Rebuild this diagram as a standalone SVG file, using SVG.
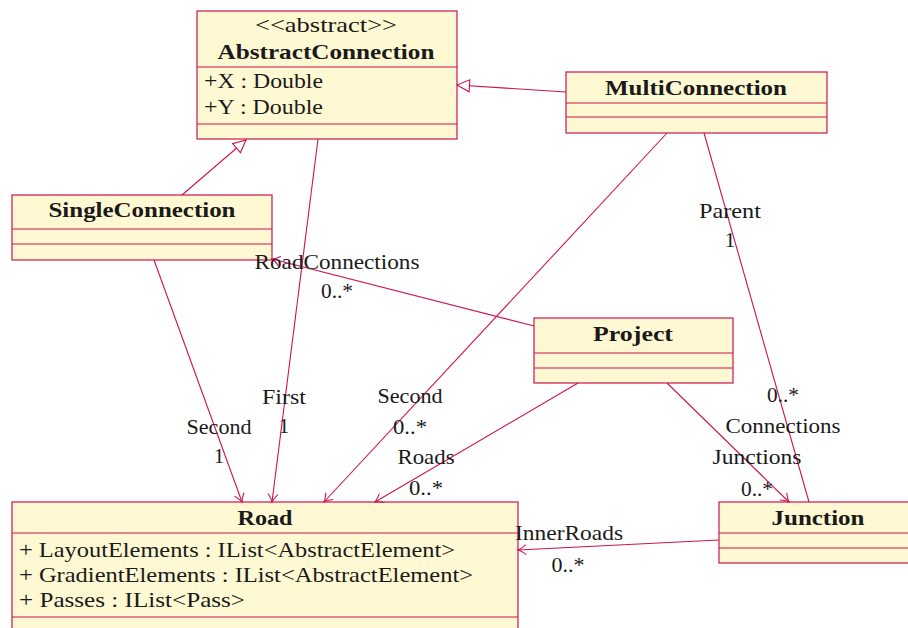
<svg xmlns="http://www.w3.org/2000/svg" width="908" height="628" viewBox="0 0 908 628">
  <style>
    .box { fill: #fef8d3; stroke: #cc1450; stroke-width: 1.2; }
    .sep { stroke: #cc1450; stroke-width: 1.2; }
    .edge { fill: none; stroke: #cc1450; stroke-width: 1.1; }
    text { font-family: "Liberation Serif", "DejaVu Serif", serif; font-size: 21px; fill: #1a1a1a; }
    .title { font-weight: bold; text-anchor: middle; }
    .mid { text-anchor: middle; }
  </style>
  <defs>
    <marker id="assoc" viewBox="-10 -7 12 14" markerWidth="12" markerHeight="14" refX="0" refY="0" orient="auto" markerUnits="userSpaceOnUse">
      <path d="M-8,-5 Q-3,-1 0,0 Q-3,1 -8,5" fill="none" stroke="#cc1450" stroke-width="1.1"/>
    </marker>
    <marker id="inherit" viewBox="-15 -8 17 16" markerWidth="17" markerHeight="16" refX="0" refY="0" orient="auto" markerUnits="userSpaceOnUse">
      <path d="M0,0 L-12.5,-6 L-12.5,6 Z" fill="#ffffff" stroke="#cc1450" stroke-width="1.1"/>
    </marker>
  </defs>

  <g id="AbstractConnection">
    <rect class="box" x="197" y="11" width="260" height="128"/>
    <line class="sep" x1="197" y1="67" x2="457" y2="67"/>
    <line class="sep" x1="197" y1="124" x2="457" y2="124"/>
    <text class="mid" x="326" y="32" textLength="142" lengthAdjust="spacingAndGlyphs">&lt;&lt;abstract&gt;&gt;</text>
    <text class="title" x="326" y="59" textLength="217" lengthAdjust="spacingAndGlyphs">AbstractConnection</text>
    <text x="204" y="88" textLength="119" lengthAdjust="spacingAndGlyphs">+X : Double</text>
    <text x="204" y="114" textLength="119" lengthAdjust="spacingAndGlyphs">+Y : Double</text>
  </g>

  <g id="MultiConnection">
    <rect class="box" x="566" y="72" width="261" height="61"/>
    <line class="sep" x1="566" y1="103" x2="827" y2="103"/>
    <line class="sep" x1="566" y1="117" x2="827" y2="117"/>
    <text class="title" x="696" y="95" textLength="182" lengthAdjust="spacingAndGlyphs">MultiConnection</text>
  </g>

  <g id="SingleConnection">
    <rect class="box" x="12" y="195" width="260" height="65"/>
    <line class="sep" x1="12" y1="229" x2="272" y2="229"/>
    <line class="sep" x1="12" y1="244" x2="272" y2="244"/>
    <text class="title" x="142" y="217" textLength="187" lengthAdjust="spacingAndGlyphs">SingleConnection</text>
  </g>

  <g id="Project">
    <rect class="box" x="534" y="318" width="199" height="65"/>
    <line class="sep" x1="534" y1="353" x2="733" y2="353"/>
    <line class="sep" x1="534" y1="368" x2="733" y2="368"/>
    <text class="title" x="633" y="341" textLength="80" lengthAdjust="spacingAndGlyphs">Project</text>
  </g>

  <g id="Road">
    <rect class="box" x="12" y="502" width="506" height="140"/>
    <line class="sep" x1="12" y1="533" x2="518" y2="533"/>
    <line class="sep" x1="12" y1="617" x2="518" y2="617"/>
    <text class="title" x="265" y="525" textLength="55" lengthAdjust="spacingAndGlyphs">Road</text>
    <text x="19" y="557" textLength="436" lengthAdjust="spacingAndGlyphs">+ LayoutElements : IList&lt;AbstractElement&gt;</text>
    <text x="19" y="582" textLength="454" lengthAdjust="spacingAndGlyphs">+ GradientElements : IList&lt;AbstractElement&gt;</text>
    <text x="19" y="607" textLength="226" lengthAdjust="spacingAndGlyphs">+ Passes : IList&lt;Pass&gt;</text>
  </g>

  <g id="Junction">
    <rect class="box" x="719" y="502" width="198" height="61"/>
    <line class="sep" x1="719" y1="533" x2="917" y2="533"/>
    <line class="sep" x1="719" y1="548" x2="917" y2="548"/>
    <text class="title" x="818" y="525" textLength="93" lengthAdjust="spacingAndGlyphs">Junction</text>
  </g>

  <!-- relations, drawn last so role labels sit over box borders -->
  <g id="connectors">
    <line class="edge" x1="182" y1="195" x2="246" y2="140" marker-end="url(#inherit)"/>
    <line class="edge" x1="566" y1="92" x2="457" y2="85" marker-end="url(#inherit)"/>
    <line class="edge" x1="318" y1="139" x2="272" y2="502" marker-end="url(#assoc)"/>
    <line class="edge" x1="154" y1="260" x2="242" y2="502" marker-end="url(#assoc)"/>
    <line class="edge" x1="667" y1="133" x2="324" y2="502" marker-end="url(#assoc)"/>
    <line class="edge" x1="578" y1="383" x2="375" y2="502" marker-end="url(#assoc)"/>
    <line class="edge" x1="667" y1="383" x2="789" y2="502" marker-end="url(#assoc)"/>
    <line class="edge" x1="704" y1="133" x2="809" y2="502"/>
    <line class="edge" x1="534" y1="326" x2="272" y2="259" marker-end="url(#assoc)"/>
    <line class="edge" x1="719" y1="540" x2="518" y2="550" marker-end="url(#assoc)"/>

    <text class="mid" x="284" y="404" textLength="44" lengthAdjust="spacingAndGlyphs">First</text>
    <text class="mid" x="284" y="433">1</text>
    <text class="mid" x="219" y="434" textLength="65" lengthAdjust="spacingAndGlyphs">Second</text>
    <text class="mid" x="219" y="463">1</text>
    <text class="mid" x="410" y="403" textLength="65" lengthAdjust="spacingAndGlyphs">Second</text>
    <text class="mid" x="410" y="434" textLength="34" lengthAdjust="spacingAndGlyphs">0..*</text>
    <text class="mid" x="426" y="464" textLength="57" lengthAdjust="spacingAndGlyphs">Roads</text>
    <text class="mid" x="426" y="495" textLength="34" lengthAdjust="spacingAndGlyphs">0..*</text>
    <text class="mid" x="730" y="218" textLength="62" lengthAdjust="spacingAndGlyphs">Parent</text>
    <text class="mid" x="730" y="247">1</text>
    <text class="mid" x="783" y="402" textLength="32" lengthAdjust="spacingAndGlyphs">0..*</text>
    <text class="mid" x="783" y="433" textLength="115" lengthAdjust="spacingAndGlyphs">Connections</text>
    <text class="mid" x="757" y="464" textLength="89" lengthAdjust="spacingAndGlyphs">Junctions</text>
    <text class="mid" x="757" y="496" textLength="32" lengthAdjust="spacingAndGlyphs">0..*</text>
    <text class="mid" x="337" y="269" textLength="165" lengthAdjust="spacingAndGlyphs">RoadConnections</text>
    <text class="mid" x="337" y="298" textLength="32" lengthAdjust="spacingAndGlyphs">0..*</text>
    <text class="mid" x="569" y="540" textLength="108" lengthAdjust="spacingAndGlyphs">InnerRoads</text>
    <text class="mid" x="568" y="572" textLength="33" lengthAdjust="spacingAndGlyphs">0..*</text>
  </g>
</svg>
